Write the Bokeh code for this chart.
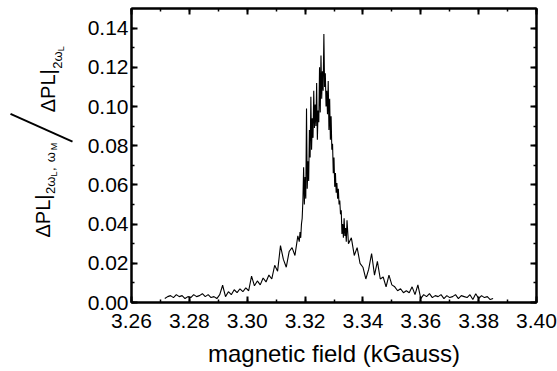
import numpy as np
from bokeh.plotting import figure
from bokeh.layouts import row
from bokeh.models import (LinearAxis, SingleIntervalTicker, PrintfTickFormatter,
                          Range1d, ColumnDataSource)
from bokeh.embed import file_html
from bokeh.resources import INLINE

# ---------------- data ----------------
# field sweep sampled on three grids (kGauss)
field_a = np.round(np.arange(3.2715, 3.3176, 0.001), 5)      # tail, left side
signal_a = [0.002, 0.003, 0.0035, 0.0025, 0.004, 0.003, 0.0035, 0.002, 0.003, 0.0025,
            0.004, 0.003, 0.0035, 0.0045, 0.003, 0.004, 0.0025, 0.003, 0.002, 0.004,
            0.0088, 0.003, 0.0055, 0.004, 0.0065, 0.005, 0.007, 0.0055, 0.0075, 0.006,
            0.0135, 0.0085, 0.011, 0.009, 0.0125, 0.0105, 0.014, 0.012, 0.019, 0.016,
            0.029, 0.022, 0.018, 0.026, 0.028, 0.024, 0.034]

field_b = np.round(np.arange(3.3180, 3.33451, 0.00025), 5)   # resonance
signal_b = [0.031, 0.036, 0.033, 0.040, 0.043, 0.052, 0.069, 0.050, 0.064, 0.053,
            0.099, 0.058, 0.072, 0.062, 0.088, 0.074, 0.105, 0.078, 0.094, 0.084,
            0.108, 0.089, 0.101, 0.090, 0.112, 0.083, 0.098, 0.092, 0.120, 0.097,
            0.126, 0.104, 0.118, 0.108, 0.137, 0.110, 0.117, 0.100, 0.108, 0.096,
            0.113, 0.088, 0.104, 0.083, 0.095, 0.078, 0.081, 0.066, 0.074, 0.059,
            0.066, 0.056, 0.061, 0.053, 0.058, 0.050, 0.052, 0.045, 0.047, 0.035,
            0.040, 0.033, 0.043, 0.034, 0.038, 0.031, 0.042]

field_c = np.round(np.arange(3.335, 3.38501, 0.001), 5)      # tail, right side
signal_c = [0.030, 0.033, 0.024, 0.028, 0.020, 0.018, 0.012, 0.017, 0.025, 0.014,
            0.021, 0.012, 0.013, 0.008, 0.014, 0.009, 0.008, 0.006, 0.007, 0.005,
            0.006, 0.005, 0.008, 0.004, 0.009, 0.002, 0.004, 0.003, 0.0045, 0.0025,
            0.0035, 0.003, 0.004, 0.002, 0.0035, 0.0025, 0.003, 0.004, 0.002, 0.0035,
            0.003, 0.0025, 0.004, 0.0015, 0.0045, 0.002, 0.0035, 0.0025, 0.003, 0.0015,
            0.002]

x_title = "magnetic field (kGauss)"
x_lim = (3.26, 3.40)
y_lim = (0.0, 0.15)
tick_step = 0.02

field = np.concatenate([field_a, field_b, field_c])
signal = np.concatenate([signal_a, signal_b, signal_c])
src = ColumnDataSource(dict(x=field, y=signal))

FONT = "Liberation Sans"
H = 371
LEFT_W = 78

# ---------------- main plot ----------------
p = figure(width=557 - LEFT_W, height=H, x_range=Range1d(*x_lim), y_range=Range1d(*y_lim),
           output_backend="svg", toolbar_location=None,
           min_border_left=131 - LEFT_W, min_border_right=21, min_border_top=8,
           min_border_bottom=69, x_axis_label=x_title)
p.grid.visible = False
p.outline_line_color = "black"
p.outline_line_width = 2
p.background_fill_color = "white"
p.border_fill_color = "white"

p.line("x", "y", source=src, line_color="black", line_width=1.1)


def style(ax, labels=True):
    ax.ticker = SingleIntervalTicker(interval=tick_step, num_minor_ticks=2)
    ax.major_tick_in = 6
    ax.major_tick_out = 0
    ax.minor_tick_in = 3
    ax.minor_tick_out = 0
    ax.major_tick_line_width = 2
    ax.minor_tick_line_width = 1.5
    ax.major_tick_line_color = "black"
    ax.minor_tick_line_color = "black"
    ax.axis_line_width = 2
    ax.axis_line_color = "black"
    ax.formatter = PrintfTickFormatter(format="%.2f")
    if labels:
        ax.major_label_text_font = FONT
        ax.major_label_text_font_size = "21px"
        ax.major_label_text_color = "black"
    else:
        ax.major_label_text_font_size = "1px"
        ax.major_label_text_color = None
        ax.major_label_standoff = 0


style(p.xaxis[0])
style(p.yaxis[0])
p.xaxis[0].major_label_standoff = 11
p.yaxis[0].major_label_standoff = 3
p.xaxis[0].axis_label_text_font = FONT
p.xaxis[0].axis_label_text_font_size = "24px"
p.xaxis[0].axis_label_text_font_style = "normal"
p.xaxis[0].axis_label_text_color = "black"
p.xaxis[0].axis_label_text_line_height = 0.9
p.xaxis[0].axis_label_standoff = 9

top = LinearAxis()
style(top, labels=False)
p.add_layout(top, "above")
right = LinearAxis()
style(right, labels=False)
p.add_layout(right, "right")

# ---------------- composite y-axis title (own pixel-space panel) ----------------
t = figure(width=LEFT_W, height=H, x_range=Range1d(0, LEFT_W), y_range=Range1d(0, H),
           output_backend="svg", toolbar_location=None,
           min_border_left=0, min_border_right=0, min_border_top=0, min_border_bottom=0,
           x_axis_type=None, y_axis_type=None)
t.grid.visible = False
t.outline_line_color = None
t.background_fill_color = "white"
t.border_fill_color = "white"

ANG = np.pi / 2
pieces = [
    # text, x, y (px from panel left / bottom), size
    ("ΔPL|", 42, 82, "20px"),
    ("2ω", 50, 137, "13px"),
    ("L", 53, 159, "9px"),
    (",", 50, 166, "13px"),
    ("ω", 50, 177, "13px"),
    ("M", 53, 192, "9px"),
    ("ΔPL|", 47, 240, "20px"),
    ("2ω", 57, 295, "13px"),
    ("L", 60, 317, "9px"),
]
for txt, sx, sy, fs in pieces:
    t.text(x=[sx], y=[sy], text=[txt], angle=ANG, text_font={"value": FONT},
           text_font_size={"value": fs}, text_color="black",
           text_align="left", text_baseline="alphabetic")

t.line(x=[10, 72], y=[238, 203], line_color="black", line_width=2)

layout = row(t, p)
open("out.html", "w").write(file_html(layout, INLINE))
